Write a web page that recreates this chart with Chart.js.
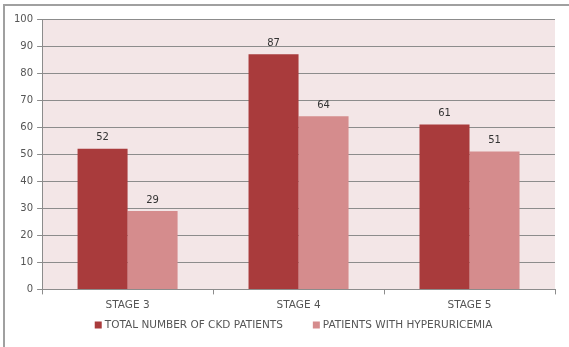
<!DOCTYPE html>
<html>
<head>
<meta charset="utf-8">
<script src="https://cdn.jsdelivr.net/npm/chart.js@4"></script>
<style>
  html, body { margin: 0; padding: 0; background: #fff; }
  #frame {
    position: absolute; left: 3px; top: 4px; width: 566px; height: 343px;
    border-left: 2px solid #a0a0a0; border-top: 2px solid #a0a0a0;
    box-sizing: border-box;
  }
  #wrap { position: absolute; left: 0; top: 0; width: 569px; height: 347px; }
</style>
</head>
<body>
<div id="frame"></div>
<div id="wrap"><canvas id="barChart"></canvas></div>
<script>
const stages = ["STAGE 3", "STAGE 4", "STAGE 5"];
const totalCkd = [52, 87, 61];
const hyperuricemia = [29, 64, 51];
const yTicks = [0, 10, 20, 30, 40, 50, 60, 70, 80, 90, 100];

const labelFont = "10.5px 'DejaVu Sans'";

// pink plot background like the original
const plotBg = {
  id: "plotBg",
  beforeDraw(chart) {
    const { ctx, chartArea: a } = chart;
    ctx.save();
    ctx.fillStyle = "#f3e6e7";
    ctx.fillRect(a.left, a.top, a.right - a.left, a.bottom - a.top);
    ctx.restore();
  }
};

// value labels above the bars
const barValues = {
  id: "barValues",
  afterDatasetsDraw(chart) {
    const { ctx } = chart;
    ctx.save();
    ctx.font = "10px 'DejaVu Sans'";
    ctx.fillStyle = "#333";
    ctx.textAlign = "center";
    ctx.textBaseline = "bottom";
    chart.data.datasets.forEach((ds, i) => {
      chart.getDatasetMeta(i).data.forEach((bar, j) => {
        ctx.fillText(ds.data[j], bar.x, bar.y - 6);
      });
    });
    ctx.restore();
  }
};

// legend row under the axis (built-in legend ties vertical and horizontal padding together)
const bottomLegend = {
  id: "bottomLegend",
  afterDraw(chart) {
    const { ctx } = chart;
    const gap = 30, box = 7, boxGap = 3;
    ctx.save();
    ctx.font = labelFont;
    ctx.textBaseline = "middle";
    ctx.fillStyle = "#555";
    const items = chart.data.datasets.map(ds => ({
      text: ds.label, color: ds.backgroundColor,
      w: box + boxGap + ctx.measureText(ds.label).width
    }));
    const total = items.reduce((s, it) => s + it.w, 0) + gap * (items.length - 1);
    let x = (chart.chartArea.left + chart.chartArea.right) / 2 - total / 2 - 5;
    const y = 325;
    items.forEach(it => {
      ctx.fillStyle = it.color;
      ctx.fillRect(x, y - box / 2, box, box);
      ctx.fillStyle = "#555";
      ctx.fillText(it.text, x + box + boxGap, y);
      x += it.w + gap;
    });
    ctx.restore();
  }
};

const data = {
  labels: stages,
  datasets: [
    {
      label: "TOTAL NUMBER OF CKD PATIENTS",
      data: totalCkd,
      backgroundColor: "#a93b3c",
      borderWidth: 0
    },
    {
      label: "PATIENTS WITH HYPERURICEMIA",
      data: hyperuricemia,
      backgroundColor: "#d58c8d",
      borderWidth: 0
    }
  ]
};

const config = {
  type: "bar",
  data: data,
  options: {
    responsive: true,
    maintainAspectRatio: false,
    animation: false,
    layout: { padding: { left: 10, right: 14, top: 19, bottom: 30 } },
    datasets: { bar: { categoryPercentage: 0.585, barPercentage: 1.0 } },
    scales: {
      y: {
        min: 0,
        max: 100,
        afterBuildTicks: (axis) => { axis.ticks = yTicks.map(v => ({ value: v })); },
        border: { display: true, color: "#8c8c8c" },
        grid: { color: "#8c8c8c", tickLength: 5 },
        ticks: { color: "#555", font: { family: "DejaVu Sans", size: 10 }, padding: 4 }
      },
      x: {
        border: { display: true, color: "#8c8c8c" },
        grid: { offset: true, drawOnChartArea: false, drawTicks: true, tickLength: 5, color: "#8c8c8c" },
        ticks: { color: "#555", font: { family: "DejaVu Sans", size: 10.5 }, padding: 5 }
      }
    },
    plugins: {
      legend: { display: false },
      tooltip: { enabled: false }
    }
  },
  plugins: [plotBg, barValues, bottomLegend]
};

new Chart(document.getElementById("barChart"), config);
</script>
</body>
</html>
